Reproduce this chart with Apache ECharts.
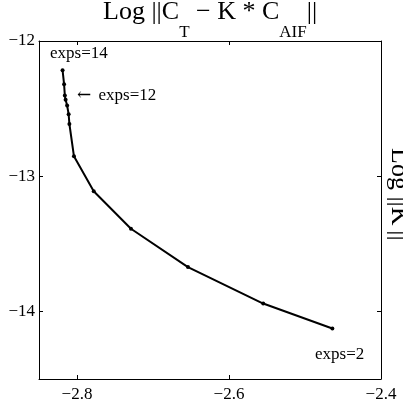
<!DOCTYPE html>
<html>
<head>
<meta charset="UTF-8">
<title>L-curve</title>
<script src="https://cdn.jsdelivr.net/npm/echarts@6/dist/echarts.min.js"></script>
<style>
html, body { margin: 0; padding: 0; background: #fff; }
#main { width: 403px; height: 403px; }
</style>
</head>
<body>
<div id="main"></div>
<script>
// exps = 2 .. 14
var exps = [2, 3, 4, 5, 6, 7, 8, 9, 10, 11, 12, 13, 14];
var residual = [-2.464, -2.555, -2.654, -2.729, -2.778, -2.804, -2.810, -2.811, -2.813, -2.815, -2.816, -2.817, -2.819];
var normK = [-14.126, -13.942, -13.672, -13.389, -13.111, -12.853, -12.614, -12.541, -12.477, -12.435, -12.403, -12.319, -12.216];
var xTicks = [-2.8, -2.6, -2.4];
var yTicks = [-14, -13, -12];

var serif = '"Liberation Serif", "Times New Roman", serif';

function fmt(v, d) {
	return (v < 0 ? '\u2212' : '') + Math.abs(v).toFixed(d);
}

var points = [];
for (var i = 0; i < exps.length; i++) {
	points.push([residual[i], normK[i]]);
}

var tickStyle = { inside: true, length: 4, lineStyle: { color: '#000', width: 1 } };

var myChart = echarts.init(document.getElementById('main'));
var option = {
	animation: false,
	grid: { left: 39, right: 22, top: 41, bottom: 23 },
	xAxis: [{
		type: 'value', position: 'bottom', min: -2.85, max: -2.4,
		axisLine: { lineStyle: { color: '#000', width: 1 } },
		axisTick: Object.assign({ customValues: xTicks }, tickStyle),
		axisLabel: { customValues: xTicks, color: '#000', fontFamily: serif, fontSize: 17, margin: 7,
			formatter: function (v) { return fmt(v, 1); } },
		splitLine: { show: false }
	}, {
		type: 'value', position: 'top', min: -2.85, max: -2.4,
		axisLine: { lineStyle: { color: '#000', width: 1 } },
		axisTick: Object.assign({ customValues: xTicks }, tickStyle),
		axisLabel: { show: false },
		splitLine: { show: false }
	}],
	yAxis: [{
		type: 'value', position: 'left', min: -14.5, max: -12,
		axisLine: { lineStyle: { color: '#000', width: 1 } },
		axisTick: Object.assign({ customValues: yTicks }, tickStyle),
		axisLabel: { customValues: yTicks, color: '#000', fontFamily: serif, fontSize: 17, margin: 4,
			formatter: function (v) { return fmt(v, 0); } },
		splitLine: { show: false }
	}, {
		type: 'value', position: 'right', min: -14.5, max: -12,
		axisLine: { lineStyle: { color: '#000', width: 1 } },
		axisTick: Object.assign({ customValues: yTicks }, tickStyle),
		axisLabel: { show: false },
		splitLine: { show: false }
	}],
	series: [{
		type: 'line',
		xAxisIndex: 0,
		yAxisIndex: 0,
		data: points,
		symbol: 'circle',
		symbolSize: 4,
		showAllSymbol: true,
		lineStyle: { color: '#000', width: 2 },
		itemStyle: { color: '#000' }
	}],
	graphic: [
		// title with subscripts
		{ type: 'text', left: 103, top: -1, z: 100, style: {
			text: '{a|Log ||C}{s|T}{a| \u2212 K * C}{s|AIF}{a|||}',
			fill: '#000',
			rich: {
				a: { font: '26px ' + serif, fill: '#000', verticalAlign: 'top', lineHeight: 42 },
				s: { font: '17px ' + serif, fill: '#000', verticalAlign: 'bottom', lineHeight: 17 }
			} } },
		{ type: 'text', left: 50, top: 45, style: { text: 'exps=14', font: '17px ' + serif, fill: '#000' } },
		{ type: 'text', left: 77, top: 87, style: {
			text: '{r|\u2190} exps=12', font: '17px ' + serif, fill: '#000',
			rich: { r: { font: '17px "DejaVu Serif", serif', fill: '#000', padding: [0, 3, 0, 0] } } } },
		{ type: 'text', left: 315, top: 346, style: { text: 'exps=2', font: '17px ' + serif, fill: '#000' } },
		{ type: 'text', x: 386, y: 148, rotation: -Math.PI / 2,
			style: { text: "Log ||K'||", font: '26px ' + serif, fill: '#000', align: 'left', verticalAlign: 'bottom' } }
	]
};
myChart.setOption(option);
</script>
</body>
</html>
